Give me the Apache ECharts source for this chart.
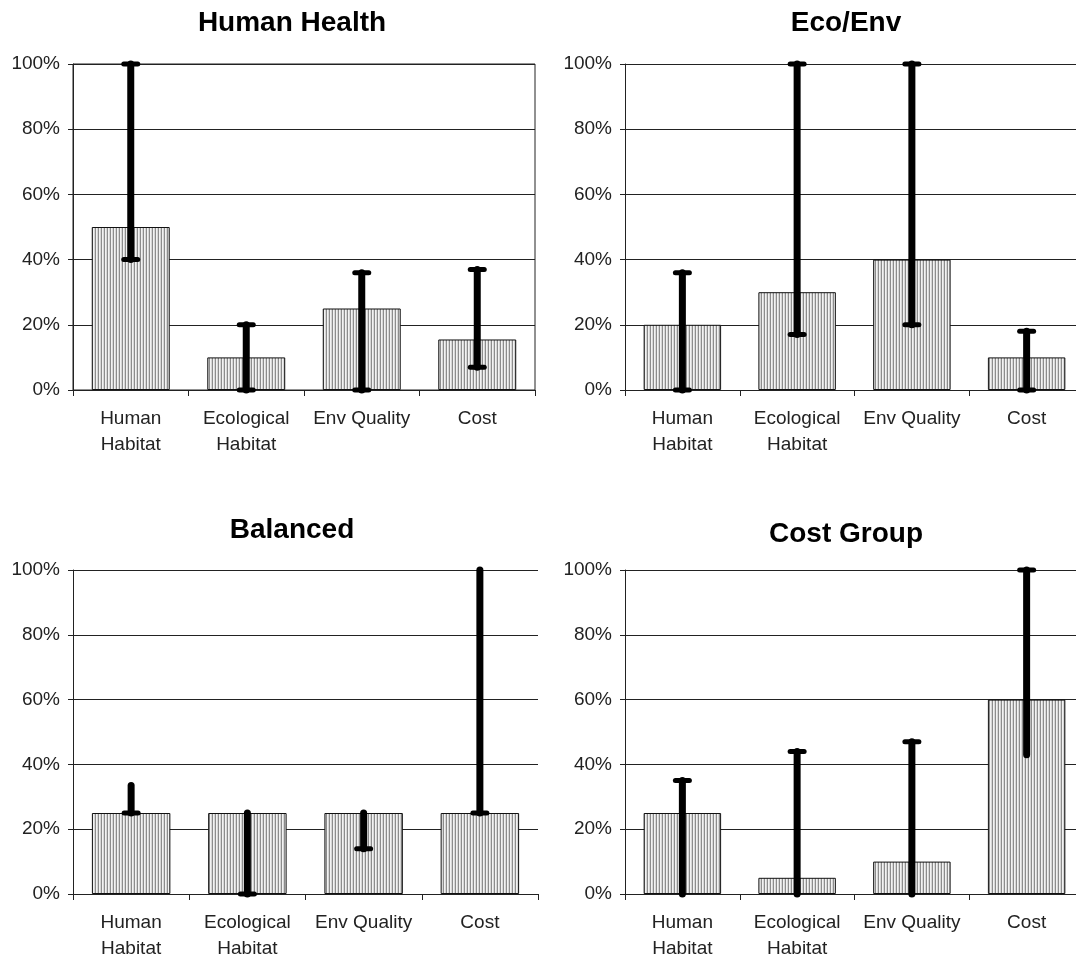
<!DOCTYPE html>
<html>
<head>
<meta charset="utf-8">
<script src="https://cdn.jsdelivr.net/npm/echarts@6/dist/echarts.min.js"></script>
<style>
html,body{margin:0;padding:0;background:#fff;overflow:hidden;width:1076px;height:962px;}
#chart{width:1090px;height:962px;}
</style>
</head>
<body>
<div id="chart"></div>
<script>
// ---- data ----
const categories = ['Human\nHabitat', 'Ecological\nHabitat', 'Env Quality', 'Cost'];
const panelTitles = ['Human Health', 'Eco/Env', 'Balanced', 'Cost Group'];
const yTickValues = [0, 20, 40, 60, 80, 100];

const humanHealthBars = [50, 10, 25, 15.5];
const humanHealthLow  = [40, 0, 0, 7];
const humanHealthHigh = [100, 20, 36, 37];
const humanHealthCapLow  = [1, 1, 1, 1];
const humanHealthCapHigh = [1, 1, 1, 1];

const ecoEnvBars = [20, 30, 40, 10];
const ecoEnvLow  = [0, 17, 20, 0];
const ecoEnvHigh = [36, 100, 100, 18];
const ecoEnvCapLow  = [1, 1, 1, 1];
const ecoEnvCapHigh = [1, 1, 1, 1];

const balancedBars = [25, 25, 25, 25];
const balancedLow  = [25, 0, 14, 25];
const balancedHigh = [33.5, 25, 25, 100];
const balancedCapLow  = [1, 1, 1, 1];
const balancedCapHigh = [0, 0, 0, 0];

const costGroupBars = [25, 5, 10, 60];
const costGroupLow  = [0, 0, 0, 43];
const costGroupHigh = [35, 44, 47, 100];
const costGroupCapLow  = [0, 0, 0, 0];
const costGroupCapHigh = [1, 1, 1, 1];

const panels = [
  {bars: humanHealthBars, low: humanHealthLow, high: humanHealthHigh, capLow: humanHealthCapLow, capHigh: humanHealthCapHigh},
  {bars: ecoEnvBars, low: ecoEnvLow, high: ecoEnvHigh, capLow: ecoEnvCapLow, capHigh: ecoEnvCapHigh},
  {bars: balancedBars, low: balancedLow, high: balancedHigh, capLow: balancedCapLow, capHigh: balancedCapHigh},
  {bars: costGroupBars, low: costGroupLow, high: costGroupHigh, capLow: costGroupCapLow, capHigh: costGroupCapHigh}
];

// ---- layout ----
const grids = [
  {left: 73, top: 64, width: 462, height: 326, show: true},
  {left: 625, top: 64, width: 459, height: 326, show: false},
  {left: 73, top: 570, width: 465, height: 327, show: false},
  {left: 625, top: 570, width: 459, height: 329, show: false}
];
const titlePos = [
  {x: 292, y: 9},
  {x: 846, y: 9},
  {x: 292, y: 516},
  {x: 846, y: 520}
];

// stripe pattern
const pc = document.createElement('canvas');
pc.width = 3; pc.height = 4;
const pctx = pc.getContext('2d');
pctx.fillStyle = '#f2f2f2'; pctx.fillRect(0, 0, 1, 4);
pctx.fillStyle = '#d6d6d6'; pctx.fillRect(1, 0, 1, 4);
pctx.fillStyle = '#8c8c8c'; pctx.fillRect(2, 0, 1, 4);

const FONT = 'Liberation Sans, Arial, sans-serif';

const option = {
  animation: false,
  backgroundColor: '#ffffff',
  title: panelTitles.map((t, i) => ({
    text: t,
    left: titlePos[i].x,
    top: titlePos[i].y,
    textAlign: 'center',
    padding: 0,
    textStyle: {fontFamily: FONT, fontWeight: 'bold', fontSize: 28, color: '#000'}
  })),
  grid: grids.map(g => Object.assign({borderColor: '#222', borderWidth: 1, backgroundColor: 'transparent'}, g)),
  xAxis: grids.map((g, i) => ({
    type: 'category',
    gridIndex: i,
    data: categories,
    axisLine: {show: true, lineStyle: {color: '#222', width: 1}},
    axisTick: {show: true, length: 6, lineStyle: {color: '#222'}},
    axisLabel: {fontFamily: FONT, fontSize: 19, color: '#222', margin: 16, lineHeight: 26, interval: 0},
    splitLine: {show: false}
  })),
  yAxis: grids.map((g, i) => ({
    type: 'value',
    gridIndex: i,
    min: yTickValues[0],
    max: yTickValues[yTickValues.length - 1],
    interval: yTickValues[1] - yTickValues[0],
    axisLine: {show: true, lineStyle: {color: '#222', width: 1}},
    axisTick: {show: true, length: 5, lineStyle: {color: '#222'}},
    axisLabel: {fontFamily: FONT, fontSize: 19, color: '#222', margin: 13, formatter: '{value}%'},
    splitLine: {show: true, lineStyle: {color: '#222', width: 1}}
  })),
  series: []
};

panels.forEach((p, i) => {
  option.series.push({
    type: 'bar',
    xAxisIndex: i,
    yAxisIndex: i,
    data: p.bars,
    barWidth: '67.5%',
    itemStyle: {color: {image: pc, repeat: 'repeat'}, borderColor: '#111', borderWidth: 1}
  });
  option.series.push({
    type: 'custom',
    xAxisIndex: i,
    yAxisIndex: i,
    z: 5,
    data: p.bars.map((_, k) => [k, p.low[k], p.high[k], p.capLow[k], p.capHigh[k]]),
    renderItem: function (params, api) {
      const c = api.value(0);
      const pLo = api.coord([c, api.value(1)]);
      const pHi = api.coord([c, api.value(2)]);
      const st = {stroke: '#000', lineWidth: 7, lineCap: 'round'};
      const capSt = {stroke: '#000', lineWidth: 5, lineCap: 'round'};
      const children = [{type: 'line', shape: {x1: pLo[0], y1: pLo[1], x2: pHi[0], y2: pHi[1]}, style: st}];
      if (api.value(3)) children.push({type: 'line', shape: {x1: pLo[0] - 7, y1: pLo[1], x2: pLo[0] + 7, y2: pLo[1]}, style: capSt});
      if (api.value(4)) children.push({type: 'line', shape: {x1: pHi[0] - 7, y1: pHi[1], x2: pHi[0] + 7, y2: pHi[1]}, style: capSt});
      return {type: 'group', children: children};
    }
  });
});

const chart = echarts.init(document.getElementById('chart'), null, {renderer: 'canvas'});
chart.setOption(option);
</script>
</body>
</html>
